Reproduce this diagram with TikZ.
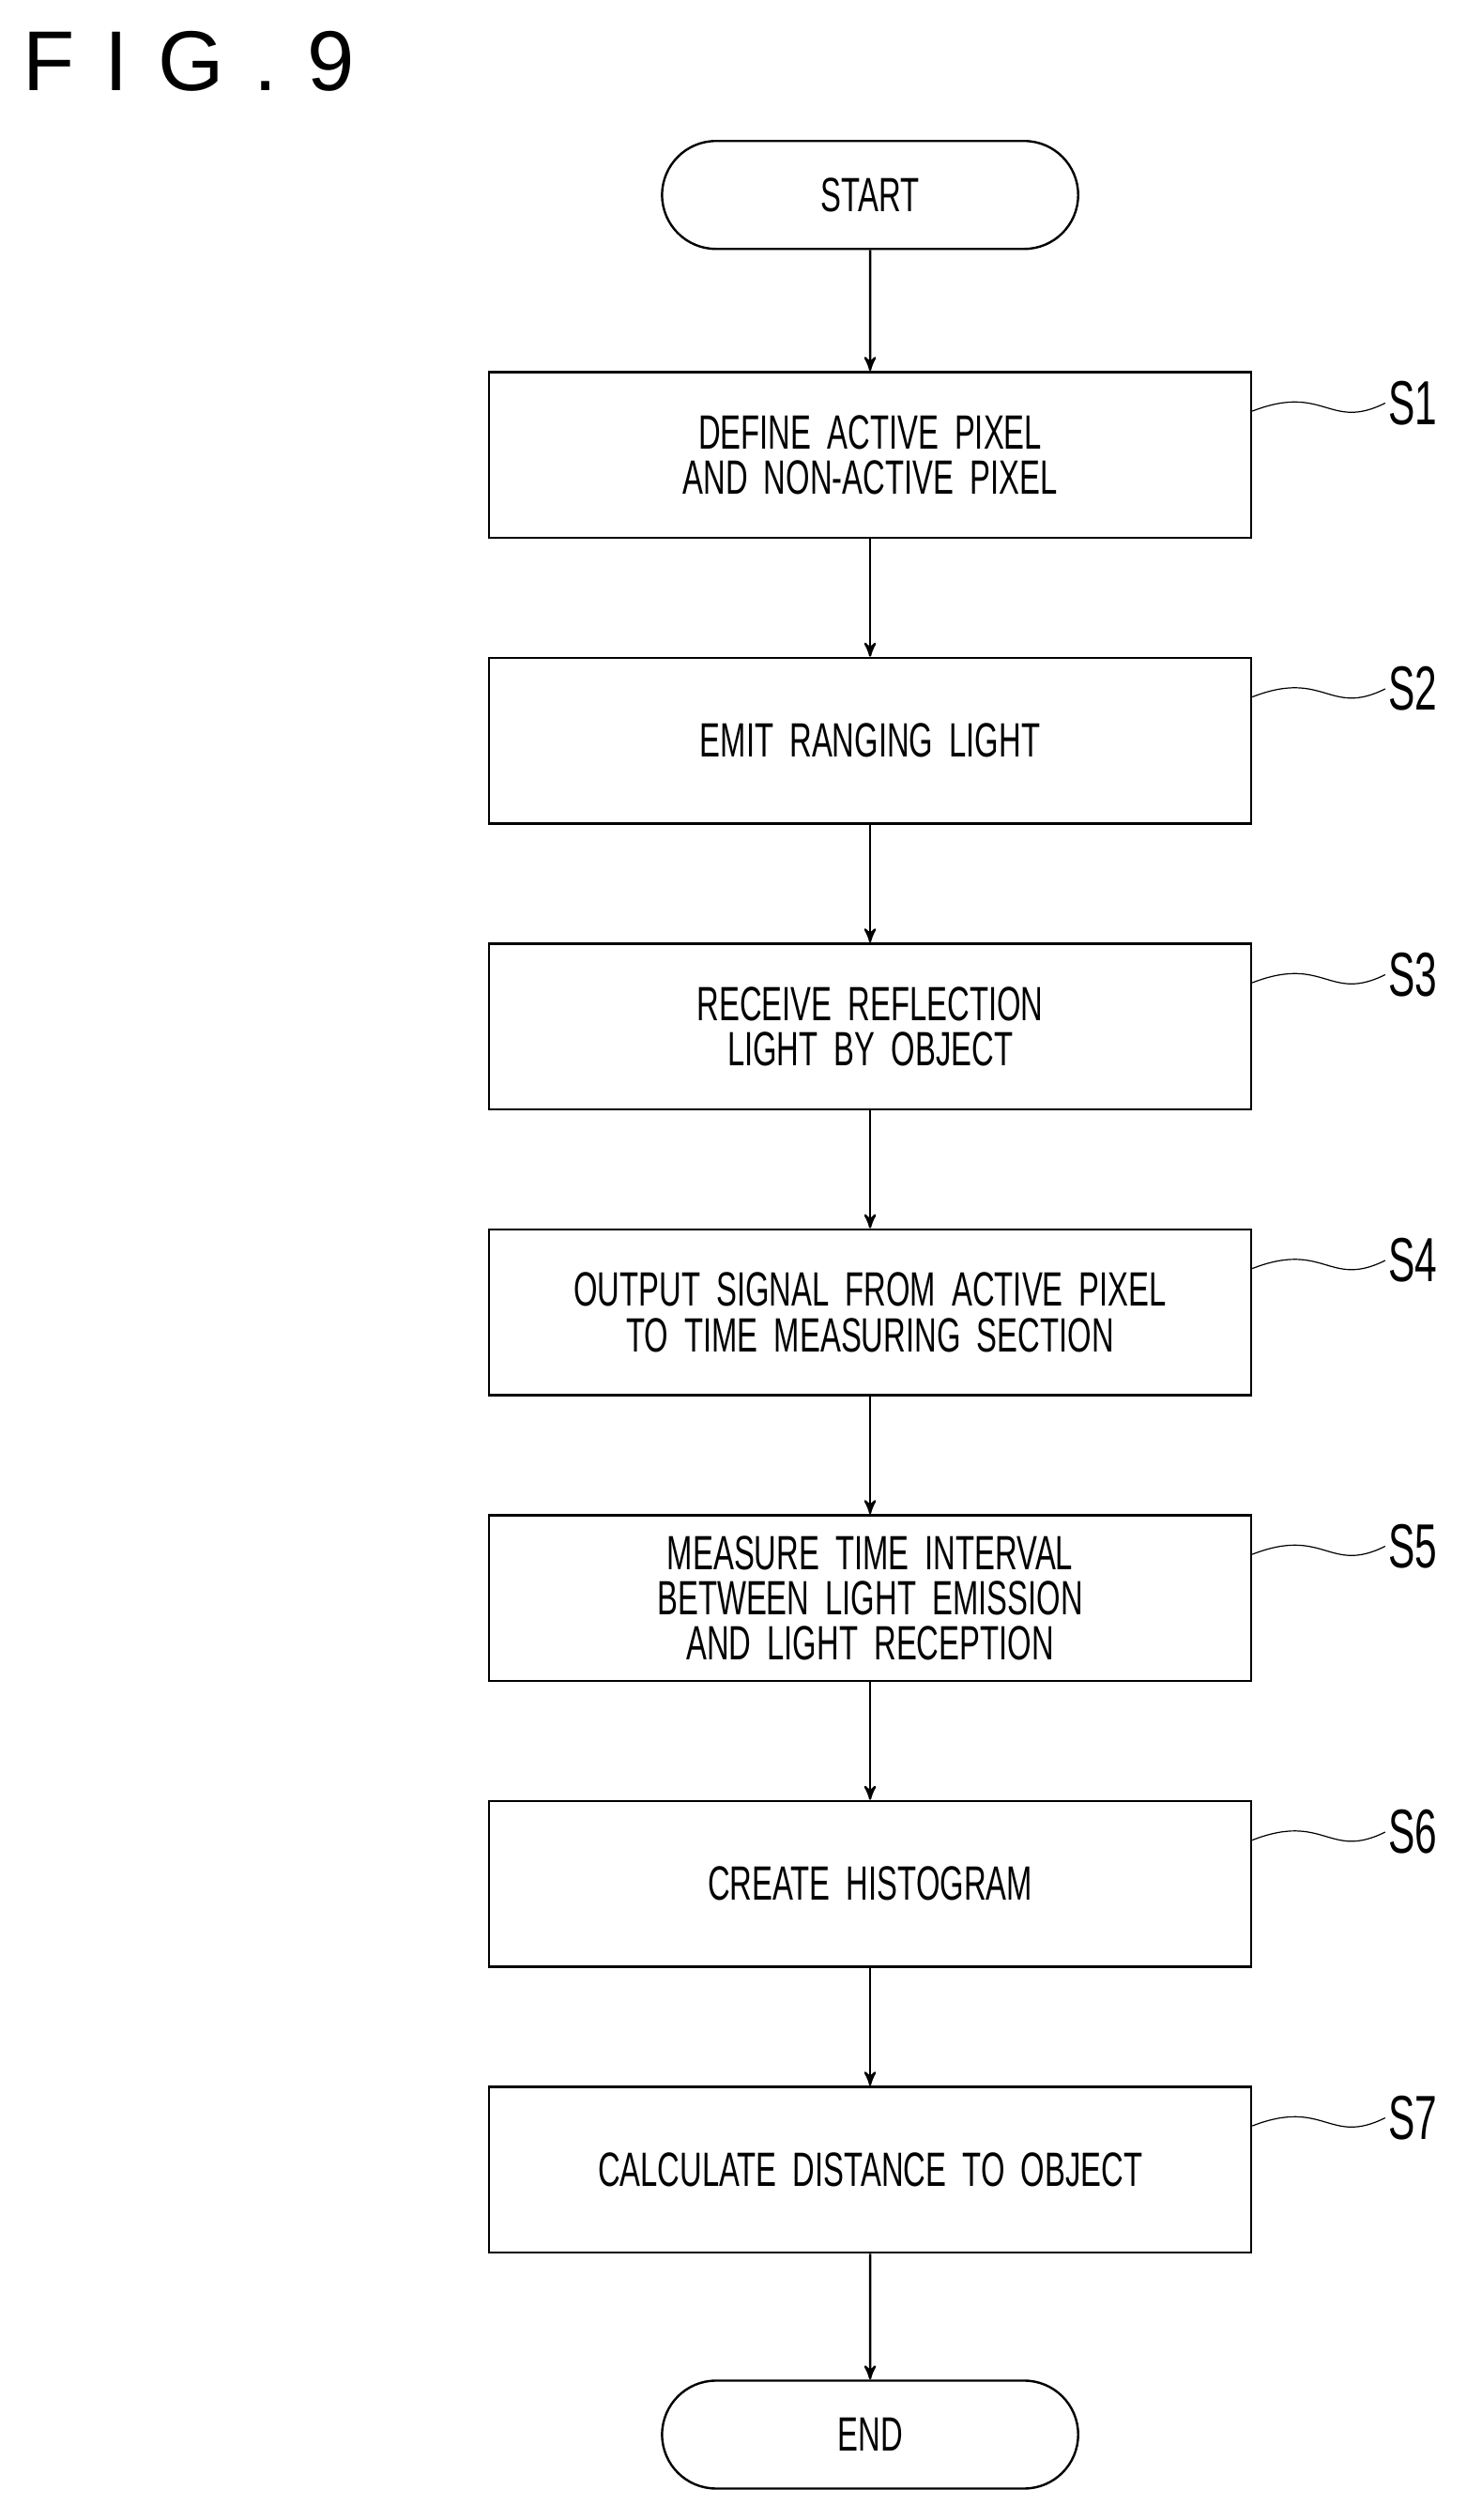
\documentclass[tikz,border=0pt]{standalone}
\usepackage{fontspec}
\setmainfont{Liberation Sans}
\newfontfamily\cond[FakeStretch=0.64,WordSpace=0.55]{Liberation Sans}
\usetikzlibrary{arrows,positioning,shapes.misc}
\begin{document}
\begin{tikzpicture}[node distance=1.46cm,font=\cond\fontsize{17}{16}\selectfont,x=0.02cm,y=-0.02cm]
\tikzset{
    %Define standard arrow tip
    >=stealth',
    %Define style for boxes
    punkt/.style={
           rectangle,
           draw=black, thick,
           text width=8.8cm, align=center,
           minimum width=9.46cm,
           minimum height=2.06cm,
           inner sep=0pt},
    oval/.style={
           rounded rectangle,
           draw=black, thick,
           minimum width=5.4cm,
           minimum height=1.34cm},
    % Define arrow style
    pil/.style={
           ->,
           thick},
    wave/.style={thin}
}
\useasboundingbox (0,0) rectangle (910,1564);
\node[anchor=west,font=\fontsize{30}{30}\selectfont] (fig) at (8,38) {F\hspace{0.35em}I\hspace{0.35em}G\hspace{0.35em}.\hspace{0.35em}9};
 %nodes
\node[oval] (start) at (540,121) {START};
\node[punkt,below=1.5cm of start] (s1) {DEFINE ACTIVE PIXEL\\AND NON-ACTIVE PIXEL};
\node[punkt,below=of s1] (s2) {EMIT RANGING LIGHT};
\node[punkt,below=of s2] (s3) {RECEIVE REFLECTION\\LIGHT BY OBJECT};
\node[punkt,below=of s3] (s4) {OUTPUT SIGNAL FROM ACTIVE PIXEL\\TO TIME MEASURING SECTION};
\node[punkt,below=of s4] (s5) {MEASURE TIME INTERVAL\\BETWEEN LIGHT EMISSION\\AND LIGHT RECEPTION};
\node[punkt,below=of s5] (s6) {CREATE HISTOGRAM};
\node[punkt,below=of s6] (s7) {CALCULATE DISTANCE TO OBJECT};
\node[oval,below=1.56cm of s7] (end) {END};

\draw[pil] (start) -- (s1);
\foreach \a/\b in {s1/s2,s2/s3,s3/s4,s4/s5,s5/s6,s6/s7,s7/end}
    \draw[pil] (\a) -- (\b);

% step labels
\foreach \s/\t in {s1/S1,s2/S2,s3/S3,s4/S4,s5/S5,s6/S6,s7/S7}{
    \coordinate (\s w) at ([yshift=-0.5cm]\s.north east);
    \node[anchor=west,font=\fontsize{22}{22}\selectfont\cond,inner sep=1pt] (\s l) at ([xshift=1.65cm,yshift=0.1cm]\s w) {\t};
    \draw[wave] (\s w) .. controls +(0.9cm,0.35cm) and +(-0.7cm,-0.35cm) .. (\s l.west);
}
\end{tikzpicture}
\end{document}
